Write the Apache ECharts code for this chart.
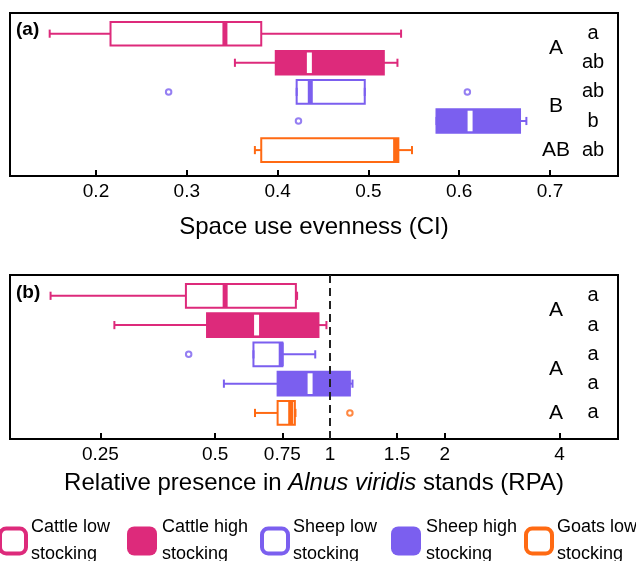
<!DOCTYPE html>
<html><head><meta charset="utf-8">
<script src="https://cdn.jsdelivr.net/npm/echarts@6/dist/echarts.min.js"></script>
<style>html,body{margin:0;padding:0;background:#fff}#c{width:636px;height:561px}</style>
</head><body><div id="c"></div>
<script>
// ---------- data ----------
const groups = ['Cattle low stocking','Cattle high stocking','Sheep low stocking','Sheep high stocking','Goats low stocking'];
const rows = [1,2,3,4,5];
// [lower whisker, Q1, median, Q3, upper whisker]
const evennessStats = [
  [0.149, 0.216, 0.342, 0.382, 0.536],
  [0.353, 0.398, 0.435, 0.517, 0.532],
  [0.421, 0.421, 0.436, 0.496, 0.496],
  [0.575, 0.575, 0.612, 0.667, 0.674],
  [0.375, 0.382, 0.530, 0.533, 0.548]
];
const evennessOutliers = [[], [], [0.280, 0.609], [0.423], []];
const rpaStats = [
  [0.185, 0.419, 0.531, 0.814, 0.820],
  [0.272, 0.476, 0.642, 0.933, 0.979],
  [0.630, 0.630, 0.745, 0.750, 0.915],
  [0.527, 0.729, 0.887, 1.128, 1.146],
  [0.636, 0.729, 0.789, 0.809, 0.812]
];
const rpaOutliers = [[], [], [0.426], [], [1.128]];
const evennessTicks = [0.2, 0.3, 0.4, 0.5, 0.6, 0.7];
const rpaTicks = [0.25, 0.5, 0.75, 1, 1.5, 2, 4];
const rpaReference = 1;
const evennessGroupLetters = ['A', 'B', 'AB'];
const evennessPairLetters = ['a', 'ab', 'ab', 'b', 'ab'];
const rpaGroupLetters = ['A', 'A', 'A'];
const rpaPairLetters = ['a', 'a', 'a', 'a', 'a'];

// ---------- styles ----------
const FONT = 'Liberation Sans, Arial, Helvetica, sans-serif';
const PINK = '#dd2a7b', PURPLE = '#7b5fef', ORANGE = '#ff6a13';
const colors = [PINK, PINK, PURPLE, PURPLE, ORANGE];
const filled = [false, true, false, true, false];
const groupLetterRows = [1.5, 3.5, 5];

function makeBoxRender(color, isFilled) {
  return function (params, api) {
    const row = api.value(0);
    const v = [1,2,3,4,5].map(i => api.value(i));
    const p = v.map(x => api.coord([x, row]));
    const y = p[0][1];
    const rowPx = Math.abs(api.coord([v[1], row + 1])[1] - y);
    const bh = rowPx * 0.81, ch = rowPx * 0.28, lw = 2;
    const [x0, x1, xm, x3, x4] = p.map(q => q[0]);
    const line = (a, b, c, d) => ({type: 'line', shape: {x1: a, y1: b, x2: c, y2: d}, style: {stroke: color, lineWidth: lw}});
    const ch2 = [];
    if (x1 - x0 > 0.5) ch2.push(line(x0, y, x1, y));
    ch2.push(line(x0, y - ch/2, x0, y + ch/2));
    if (x4 - x3 > 0.5) ch2.push(line(x3, y, x4, y));
    ch2.push(line(x4, y - ch/2, x4, y + ch/2));
    ch2.push({type: 'rect', shape: {x: x1, y: y - bh/2, width: x3 - x1, height: bh},
      style: {fill: isFilled ? color : 'none', stroke: color, lineWidth: lw}});
    const ins = isFilled ? 1.5 : 0;
    ch2.push({type: 'rect', shape: {x: xm - 2.5, y: y - bh/2 + ins, width: 5, height: bh - 2*ins},
      style: {fill: isFilled ? '#fff' : color}});
    return {type: 'group', children: ch2};
  };
}

function makeTextRender(texts, size) {
  return function (params, api) {
    const pt = api.coord([api.value(0), api.value(1)]);
    return {type: 'text', x: pt[0], y: pt[1],
      style: {text: texts[api.value(2)], fill: '#000', fontSize: size, fontFamily: FONT,
        align: 'center', verticalAlign: 'middle', textAlign: 'center', textVerticalAlign: 'middle'}};
  };
}

const series = [];
function addPanel(idx, stats, outliers, groupLetters, pairLetters, xBig, xSmall) {
  groups.forEach((g, i) => {
    series.push({
      type: 'custom', name: g, xAxisIndex: idx, yAxisIndex: idx,
      renderItem: makeBoxRender(colors[i], filled[i]),
      encode: {x: [1,2,3,4,5], y: 0},
      data: [[rows[i]].concat(stats[i])],
      silent: true, z: 3
    });
    if (outliers[i].length) {
      series.push({
        type: 'scatter', name: g, xAxisIndex: idx, yAxisIndex: idx,
        data: outliers[i].map(v => [v, rows[i]]),
        symbol: 'circle', symbolSize: 5.5,
        itemStyle: {color: '#fff', borderColor: colors[i], borderWidth: 2},
        silent: true, z: 4
      });
    }
  });
  series.push({
    type: 'custom', xAxisIndex: idx, yAxisIndex: idx, silent: true, z: 5,
    renderItem: makeTextRender(groupLetters, 21),
    data: groupLetters.map((t, i) => [xBig, groupLetterRows[i], i])
  });
  series.push({
    type: 'custom', xAxisIndex: idx, yAxisIndex: idx, silent: true, z: 5,
    renderItem: makeTextRender(pairLetters, 20),
    data: pairLetters.map((t, i) => [xSmall, rows[i], i])
  });
}
addPanel(0, evennessStats, evennessOutliers, evennessGroupLetters, evennessPairLetters, 0.7066, 0.7474);
addPanel(1, rpaStats, rpaOutliers, rpaGroupLetters, rpaPairLetters, 3.917, 4.897);

// dashed reference line at RPA = 1
series.push({
  type: 'scatter', xAxisIndex: 1, yAxisIndex: 1, data: [], silent: true,
  markLine: {silent: true, symbol: ['none', 'none'], label: {show: false},
    lineStyle: {color: '#222', type: [8, 5], width: 2}, data: [{xAxis: rpaReference}]}
});

const axisCommon = {
  axisLine: {show: true, lineStyle: {color: '#000', width: 2}},
  splitLine: {show: false},
  nameLocation: 'middle'
};

const legends = groups.map((g, i) => {
  const lefts = [-2, 127, 260, 391, 524];
  const item = filled[i]
    ? {name: g, itemStyle: {color: colors[i], borderWidth: 0}}
    : {name: g, itemStyle: {color: '#fff', borderColor: colors[i], borderWidth: 4}};
  return {
    left: lefts[i], top: 514, padding: 0, orient: 'horizontal',
    selectedMode: false, icon: 'roundRect',
    itemWidth: filled[i] ? 30 : 26, itemHeight: filled[i] ? 29 : 25,
    data: [item],
    formatter: n => n.replace(' stocking', '\nstocking'),
    textStyle: {fontSize: 18, lineHeight: 27, color: '#000', fontFamily: FONT}
  };
});

const option = {
  animation: false,
  backgroundColor: '#fff',
  textStyle: {fontFamily: FONT},
  title: [
    {text: '(a)', left: 16, top: 20, padding: 0, textStyle: {fontSize: 19, fontWeight: 'bold', color: '#000', fontFamily: FONT}},
    {text: '(b)', left: 16, top: 283, padding: 0, textStyle: {fontSize: 19, fontWeight: 'bold', color: '#000', fontFamily: FONT}}
  ],
  grid: [
    {left: 10, right: 18, top: 13, height: 163, show: true, borderColor: '#000', borderWidth: 2, backgroundColor: 'transparent'},
    {left: 10, right: 18, top: 275, height: 164, show: true, borderColor: '#000', borderWidth: 2, backgroundColor: 'transparent'}
  ],
  xAxis: [
    Object.assign({}, axisCommon, {
      gridIndex: 0, type: 'value', min: 0.1053, max: 0.7749,
      axisTick: {show: true, inside: true, length: 6, lineStyle: {color: '#000', width: 2}, customValues: evennessTicks},
      axisLabel: {customValues: evennessTicks, formatter: v => String(+(+v).toFixed(2)), fontSize: 19, color: '#000', margin: 6, fontFamily: FONT},
      name: 'Space use evenness (CI)', nameGap: 39,
      nameTextStyle: {fontSize: 24, color: '#000', fontFamily: FONT}
    }),
    Object.assign({}, axisCommon, {
      gridIndex: 1, type: 'log', logBase: 2, min: 0.1448, max: 5.696,
      axisTick: {show: true, inside: true, length: 6, lineStyle: {color: '#000', width: 2}, customValues: rpaTicks},
      axisLabel: {customValues: rpaTicks, formatter: v => String(+(+v).toFixed(2)), fontSize: 19, color: '#000', margin: 6, fontFamily: FONT},
      name: '{n|Relative presence in }{i|Alnus viridis}{n| stands (RPA)}', nameGap: 32,
      nameTextStyle: {fontSize: 24, color: '#000', fontFamily: FONT,
        rich: {n: {fontSize: 24, color: '#000', fontFamily: FONT}, i: {fontSize: 24, color: '#000', fontStyle: 'italic', fontFamily: FONT}}}
    })
  ],
  yAxis: [
    {gridIndex: 0, type: 'value', inverse: true, min: 0.29, max: 5.89, show: false},
    {gridIndex: 1, type: 'value', inverse: true, min: 0.29, max: 5.89, show: false}
  ],
  legend: legends,
  series: series
};
const chart = echarts.init(document.getElementById('c'));
chart.setOption(option);
</script></body></html>
